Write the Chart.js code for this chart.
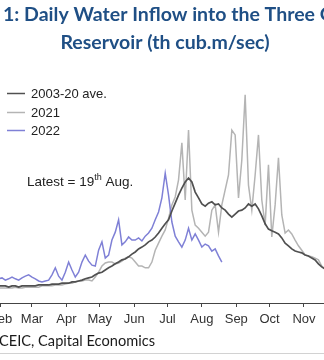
<!DOCTYPE html>
<html>
<head>
<meta charset="utf-8">
<script src="https://cdn.jsdelivr.net/npm/chart.js@4.4.1/dist/chart.umd.min.js"></script>
<style>
  html, body { margin: 0; padding: 0; background: #fff; }
  #frame { position: relative; width: 324px; height: 360px; overflow: hidden; }
  #wrap { position: absolute; left: -60px; top: 0; width: 480px; height: 360px; }
</style>
</head>
<body>
<div id="frame"><div id="wrap"><canvas id="c" width="480" height="360"></canvas></div></div>
<script>
// Horizontal offset of the canvas inside the frame (px)
const SHIFT = 60;

// Day-of-year grid (every third day)
const days = [];
for (let k = 1; k <= 121; k++) days.push(3 * k);

// Month ticks (first day of each month) and their labels
const monthStarts = [1, 32, 60, 91, 121, 152, 182, 213, 244, 274, 305, 335];
const monthLabels = ['Jan', 'Feb', 'Mar', 'Apr', 'May', 'Jun', 'Jul', 'Aug', 'Sep', 'Oct', 'Nov', 'Dec'];

// Daily inflow, th cub.m/sec
const avg0320 = [
  3.6, 3.6, 3.6, 3.9, 3.6, 3.6, 3.9, 3.6, 3.9, 3.9,
  3.9, 3.9, 3.6, 3.9, 3.9, 3.6, 3.9, 3.9, 3.9,
  3.9, 3.9, 4.1, 4.1, 4.1, 4.1, 4.3, 4.3, 4.3, 4.5,
  4.5, 4.5, 4.8, 4.8, 5.0, 5.2, 5.5, 5.7, 5.9, 6.4,
  6.8, 7.0, 7.5, 8.0, 8.4, 8.9, 9.3, 9.8, 10.0, 10.5,
  11.1, 11.6, 12.3, 12.7, 13.2, 13.9, 14.3, 15.0, 15.9, 17.0,
  18.0, 18.9, 20.9, 22.7, 24.5, 26.1, 27.5, 28.4, 27.5, 25.2,
  23.9, 22.5, 22.0, 22.7, 23.0, 22.3, 22.5, 21.6, 21.1, 20.2,
  19.5, 20.2, 20.9, 21.1, 21.6, 22.5, 22.0, 22.5, 21.4, 19.8,
  18.0, 16.8, 16.4, 16.1, 15.7, 14.8, 13.6, 13.0, 12.3, 11.8,
  11.6, 11.4, 10.9, 10.7, 10.2, 9.8, 8.9, 8.2, 7.7,
  7.3, 7.0, 6.6, 6.4, 5.9, 5.7, 5.5, 5.2, 5.0, 4.8, 4.5, 4.3, 4.1
];

const y2021 = [
  3.2, 3.2, 3.4, 3.2, 3.4, 3.4, 3.2, 3.4, 3.4, 3.4,
  3.4, 3.4, 3.4, 3.4, 3.6, 3.4, 3.4, 3.6, 3.6,
  3.6, 3.6, 3.6, 3.9, 3.9, 3.9, 3.9, 4.1, 4.1, 4.1,
  4.3, 4.5, 4.5, 4.8, 5.0, 5.0, 5.2, 5.2, 5.0, 5.9,
  7.0, 8.4, 9.1, 9.3, 9.3, 8.9, 9.1, 9.5, 10.2, 10.5,
  10.2, 9.3, 8.4, 8.4, 8.0, 8.0, 9.3, 12.0, 13.6, 15.2,
  16.6, 19.3, 22.3, 24.1, 28.0, 36.4, 23.4, 39.3, 21.1, 17.7,
  17.0, 16.1, 15.2, 16.1, 21.1, 22.3, 16.1, 22.3, 25.7, 29.1,
  39.3, 38.2, 23.9, 32.5, 47.3, 26.8, 21.1, 29.1, 38.2, 23.4,
  17.7, 31.4, 15.0, 22.3, 33.0, 20.0, 15.9, 16.6, 15.7, 14.3,
  13.0, 12.0, 10.9, 10.7, 10.5, 10.2, 9.8, 8.4, 7.7,
  7.0, 6.6, 6.1, 5.9, 5.5, 5.2, 5.0, 4.8, 4.5, 4.3, 4.1, 4.1, 3.9
];

// 2022 runs to 19 Aug
const y2022 = [
  4.3, 4.5, 4.5, 4.8, 4.8, 5.0, 5.0, 5.2, 5.2, 5.5,
  5.7, 5.2, 5.5, 5.9, 5.5, 5.2, 5.7, 6.1, 6.4,
  5.9, 5.5, 5.0, 4.8, 5.0, 5.2, 6.4, 8.0, 6.1, 5.2,
  7.0, 9.3, 7.5, 5.9, 7.0, 9.3, 10.9, 9.5, 8.6, 8.4,
  12.0, 13.9, 10.2, 10.9, 14.3, 16.1, 18.9, 13.2, 13.9, 15.0,
  14.3, 14.3, 14.8, 14.1, 15.2, 15.9, 17.0, 18.9, 20.7, 23.9,
  29.5, 24.5, 18.4, 15.2, 13.9, 12.7, 14.3, 17.0, 14.3, 15.7,
  14.3, 12.7, 13.4, 13.0, 11.8, 12.3, 10.7, 9.3
];

const seriesNames = ['2003-20 ave.', '2021', '2022'];
const titleLines = ['Chart 1: Daily Water Inflow into the Three Gorges', 'Reservoir (th cub.m/sec)'];
const noteMain = 'Latest = 19', noteSup = 'th', noteTail = ' Aug.';
const sourceText = 'Sources: CEIC, Capital Economics';

const COL_AVG = '#505050', COL_21 = '#b4b4b4', COL_22 = '#7f80d6';
const AXIS_FONT = '"Liberation Sans", Arial, sans-serif';

const pts = (vals) => vals.map((v, i) => ({ x: days[i], y: v }));

function drawScaled(ctx, text, x, y, sx) {
  ctx.save();
  ctx.translate(x, y);
  ctx.scale(sx, 1);
  ctx.fillText(text, 0, 0);
  ctx.restore();
}

// Title, legend, note and source drawn on top of the plot
const overlay = {
  id: 'overlay',
  afterDraw(chart) {
    const ctx = chart.ctx;
    ctx.save();
    ctx.textAlign = 'left';
    ctx.textBaseline = 'alphabetic';

    // Title
    ctx.fillStyle = '#1f4f85';
    ctx.font = 'bold 18.5px Lato, "Open Sans", sans-serif';
    const sx = 312 / ctx.measureText('1: Daily Water Inflow into the Three').width;
    const pre = ctx.measureText('Chart ').width * sx;
    drawScaled(ctx, titleLines[0], SHIFT + 3 - pre, 20.7, sx);
    const w2 = ctx.measureText(titleLines[1]).width * sx;
    drawScaled(ctx, titleLines[1], SHIFT + 165 - w2 / 2, 49.3, sx);

    // Legend, in series order
    const rows = [93, 112, 130];
    ctx.font = '13px ' + AXIS_FONT;
    ctx.textBaseline = 'middle';
    seriesNames.forEach((name, i) => {
      const d = chart.data.datasets.find(s => s.label === name);
      ctx.strokeStyle = d.borderColor;
      ctx.lineWidth = 1.5;
      ctx.beginPath();
      ctx.moveTo(SHIFT + 7, rows[i] + 0.5);
      ctx.lineTo(SHIFT + 25, rows[i] + 0.5);
      ctx.stroke();
      ctx.fillStyle = '#222';
      ctx.fillText(name, SHIFT + 31, rows[i] + 1);
    });

    // Note
    ctx.textBaseline = 'alphabetic';
    ctx.fillStyle = '#222';
    ctx.font = '13.5px ' + AXIS_FONT;
    let x = SHIFT + 27;
    ctx.fillText(noteMain, x, 186);
    x += ctx.measureText(noteMain).width;
    ctx.font = '9px ' + AXIS_FONT;
    ctx.fillText(noteSup, x, 180);
    x += ctx.measureText(noteSup).width;
    ctx.font = '13.5px ' + AXIS_FONT;
    ctx.fillText(noteTail, x, 186);

    // Source
    ctx.fillStyle = '#1a1a1a';
    ctx.font = '16px Lato, "Open Sans", sans-serif';
    const ss = 156 / ctx.measureText('CEIC, Capital Economics').width;
    const spre = ctx.measureText('Sources: ').width * ss;
    drawScaled(ctx, sourceText, SHIFT - 1 - spre, 346, ss);

    // Bottom rule
    ctx.strokeStyle = '#d2d2d2';
    ctx.lineWidth = 1;
    ctx.beginPath();
    ctx.moveTo(0, 353.5);
    ctx.lineTo(chart.width, 353.5);
    ctx.stroke();
    ctx.restore();
  }
};

new Chart(document.getElementById('c'), {
  type: 'line',
  data: {
    datasets: [
      { label: seriesNames[0], data: pts(avg0320), borderColor: COL_AVG, borderWidth: 1.7 },
      { label: seriesNames[2], data: pts(y2022), borderColor: COL_22, borderWidth: 1.5 },
      { label: seriesNames[1], data: pts(y2021), borderColor: COL_21, borderWidth: 1.5 }
    ].map(d => Object.assign(d, { pointRadius: 0, tension: 0, fill: false }))
  },
  options: {
    responsive: false,
    animation: false,
    events: [],
    layout: { padding: { left: 26.5, right: 49.4, top: 39, bottom: 0 } },
    plugins: { legend: { display: false }, title: { display: false }, tooltip: { enabled: false } },
    scales: {
      x: {
        type: 'linear', min: 1, max: 365,
        afterBuildTicks: (s) => { s.ticks = monthStarts.map(v => ({ value: v })); },
        afterFit: (s) => { s.height = 57; },
        ticks: {
          autoSkip: false, maxRotation: 0, color: '#333', padding: 5,
          font: { family: AXIS_FONT, size: 13 },
          callback: (v) => { const i = monthStarts.indexOf(v); return i >= 0 ? monthLabels[i] : ''; }
        },
        grid: { drawOnChartArea: false, drawTicks: true, tickLength: 4, color: '#444' },
        border: { display: true, color: '#444', width: 1 }
      },
      y: { display: false, min: 0, max: 60 }
    }
  },
  plugins: [overlay]
});
</script>
</body>
</html>
